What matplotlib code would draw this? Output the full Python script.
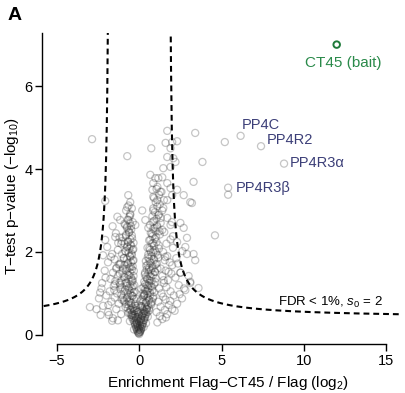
import numpy as np
import matplotlib
matplotlib.use("Agg")
import matplotlib.pyplot as plt

plt.rcParams['font.family'] = ['Liberation Sans', 'DejaVu Sans']
plt.rcParams['mathtext.fontset'] = 'custom'
plt.rcParams['mathtext.rm'] = 'Liberation Sans'
plt.rcParams['mathtext.it'] = 'Liberation Sans:italic'

# ---------------- data ----------------
# apex of the V (very dense)
apex_x = [0.0, -0.04, 0.04, -0.09, 0.07, -0.02, -0.14, 0.11, -0.07, 0.02,
          -0.19, 0.16, -0.11, 0.06, -0.24, 0.21, -0.16, 0.13, -0.03, -0.29,
          0.26, -0.21, 0.09, -0.34, 0.31, -0.12, 0.19, -0.39, 0.36, -0.27,
          0.24, -0.44, 0.4, -0.08, -0.33, 0.29, -0.5, 0.45, -0.18, 0.14]
apex_y = [0.02, 0.05, 0.07, 0.08, 0.11, 0.12, 0.13, 0.14, 0.17, 0.18,
          0.19, 0.21, 0.23, 0.25, 0.26, 0.27, 0.29, 0.31, 0.33, 0.34,
          0.35, 0.37, 0.38, 0.4, 0.41, 0.43, 0.45, 0.46, 0.47, 0.49,
          0.51, 0.52, 0.54, 0.55, 0.57, 0.58, 0.61, 0.63, 0.65, 0.67]

# dense core near the origin
core_x = [-0.05, 0.03, -0.12, 0.08, -0.02, -0.18, 0.12, -0.08, 0.05, -0.25,
          0.18, -0.3, 0.22, -0.15, 0.0, -0.38, 0.3, -0.1, 0.1, -0.45,
          0.35, -0.22, 0.15, -0.5, 0.42, -0.35, 0.28, -0.6, 0.5, -0.05,
          -0.28, 0.2, -0.55, 0.45, -0.7, 0.6, -0.4, 0.35, -0.15, 0.08,
          -0.65, 0.55, -0.8, 0.7, -0.48, 0.4, -0.2, 0.25, -0.9, 0.78,
          -0.58, 0.62, -0.32, 0.15, -0.75, 0.5, -1.0, 0.85, -0.42, 0.3]
core_y = [0.04, 0.06, 0.1, 0.1, 0.14, 0.16, 0.16, 0.2, 0.22, 0.24,
          0.24, 0.3, 0.3, 0.3, 0.32, 0.36, 0.36, 0.38, 0.4, 0.42,
          0.42, 0.44, 0.46, 0.48, 0.5, 0.5, 0.52, 0.54, 0.55, 0.5,
          0.58, 0.6, 0.6, 0.62, 0.64, 0.64, 0.66, 0.68, 0.6, 0.7,
          0.72, 0.72, 0.74, 0.76, 0.76, 0.78, 0.7, 0.8, 0.8, 0.8,
          0.82, 0.84, 0.86, 0.86, 0.88, 0.9, 0.9, 0.92, 0.94, 0.96]

# extra dense points, lower part of the V
dense_lo_x = [-0.32, 0.27, -0.12, 0.41, -0.57, 0.09, -0.21, 0.52, -0.44, 0.18,
              -0.68, 0.33, -0.03, 0.61, -0.36, 0.46, -0.83, 0.14, -0.49, 0.72,
              -0.26, 0.39, -0.62, 0.06, -0.94, 0.58, -0.17, 0.83, -0.73, 0.24,
              -0.41, 0.67, -1.08, 0.31, -0.55, 0.91, -0.29, 0.48, -0.86, 0.12,
              -0.66, 0.77, -0.38, 0.55, -1.15, 0.36, -0.78, 0.98, -0.47, 0.64]
dense_lo_y = [0.13, 0.19, 0.26, 0.28, 0.33, 0.35, 0.41, 0.44, 0.47, 0.49,
              0.53, 0.56, 0.57, 0.59, 0.63, 0.66, 0.67, 0.69, 0.71, 0.73,
              0.75, 0.77, 0.79, 0.81, 0.83, 0.85, 0.87, 0.88, 0.91, 0.92,
              0.94, 0.96, 0.97, 0.99, 1.01, 1.03, 1.04, 1.06, 1.09, 1.11,
              1.13, 1.16, 1.17, 1.19, 1.21, 1.23, 1.26, 1.27, 1.29, 1.31]

# extra dense points, middle part of the V
dense_mid_x = [-0.42, 0.47, -0.88, 0.73, -0.61, 0.34, -1.02, 0.96, -0.33, 0.58,
               -0.77, 0.81, -0.52, 0.42, -1.18, 1.07, -0.68, 0.63, -0.39, 0.88,
               -0.93, 0.52, -0.58, 1.12, -0.47, 0.71, -0.83, 0.95, -0.36, 0.61,
               -0.72, 1.18, -0.53, 0.84, -1.06, 0.67, -0.44, 1.02, -0.81, 0.77,
               -0.63, 1.23, -0.49, 0.92, -0.74, 1.08, -0.57, 0.83, -0.66, 1.31]
dense_mid_y = [1.33, 1.36, 1.39, 1.41, 1.44, 1.46, 1.49, 1.52, 1.54, 1.57,
               1.59, 1.61, 1.64, 1.67, 1.69, 1.72, 1.74, 1.77, 1.79, 1.83,
               1.85, 1.87, 1.9, 1.93, 1.96, 1.99, 2.01, 2.04, 2.07, 2.09,
               2.13, 2.16, 2.18, 2.21, 2.26, 2.29, 2.33, 2.36, 2.39, 2.44,
               2.47, 2.5, 2.54, 2.57, 2.61, 2.64, 2.69, 2.73, 2.77, 2.82]

# left arm of the V
left_x = [-0.5, -0.7, -0.35, -0.9, -0.6, -0.45, -1.05, -0.75, -0.3, -0.55,
          -0.85, -0.4, -1.1, -0.65, -0.5, -0.95, -0.35, -0.7, -1.2, -0.55,
          -0.8, -0.45, -1.0, -0.6, -0.4, -0.9, -0.7, -1.15, -0.5, -0.35,
          -0.75, -0.95, -0.55, -0.45, -1.05, -0.65, -0.85, -0.4, -0.6, -0.75,
          -0.5, -0.9, -0.35, -0.7, -0.55, -1.0, -0.45, -0.8, -0.6, -0.65,
          -0.75, -0.5, -0.9, -0.4, -0.7, -0.6, -0.55, -0.8, -0.45, -0.65]
left_y = [0.95, 1.0, 1.02, 1.05, 1.08, 1.12, 1.15, 1.18, 1.2, 1.22,
          1.25, 1.3, 1.3, 1.34, 1.38, 1.4, 1.42, 1.45, 1.48, 1.5,
          1.55, 1.58, 1.6, 1.62, 1.65, 1.68, 1.7, 1.72, 1.75, 1.8,
          1.82, 1.85, 1.88, 1.92, 1.95, 1.98, 2.02, 2.05, 2.08, 2.12,
          2.15, 2.2, 2.22, 2.25, 2.3, 2.35, 2.4, 2.42, 2.48, 2.52,
          2.58, 2.62, 2.68, 2.72, 2.78, 2.85, 2.92, 3.0, 3.05, 3.12]

# right arm of the V
right_x = [0.3, 0.5, 0.2, 0.65, 0.4, 0.8, 0.35, 0.55, 0.25, 0.7,
           0.45, 0.9, 0.6, 0.3, 0.75, 0.5, 1.0, 0.4, 0.65, 0.85,
           0.55, 0.35, 0.95, 0.7, 0.45, 1.1, 0.6, 0.8, 0.5, 1.0,
           0.7, 0.4, 0.9, 0.6, 1.15, 0.75, 0.55, 1.0, 0.85, 0.65,
           1.2, 0.5, 0.9, 0.75, 1.05, 0.6, 0.95, 0.8, 1.25, 0.7,
           1.0, 0.85, 1.1, 0.65, 1.3, 0.9, 1.05, 0.8, 1.2, 0.95,
           1.4, 0.85, 1.1, 1.25, 1.0, 1.5, 0.9, 1.2, 1.35, 1.05]
right_y = [0.95, 0.98, 1.0, 1.02, 1.05, 1.08, 1.1, 1.12, 1.15, 1.18,
           1.2, 1.22, 1.25, 1.28, 1.3, 1.34, 1.36, 1.4, 1.42, 1.45,
           1.48, 1.5, 1.52, 1.55, 1.58, 1.6, 1.62, 1.65, 1.68, 1.7,
           1.74, 1.78, 1.8, 1.84, 1.86, 1.9, 1.94, 1.98, 2.0, 2.05,
           2.08, 2.1, 2.15, 2.2, 2.24, 2.28, 2.32, 2.38, 2.42, 2.46,
           2.5, 2.56, 2.6, 2.65, 2.7, 2.75, 2.8, 2.86, 2.9, 2.96,
           3.0, 3.05, 3.1, 3.15, 3.2, 3.25, 3.3, 3.38, 3.45, 3.52]

# lighter halo around the V
halo_x = [-1.3, -1.6, -1.1, -1.9, -1.4, -2.2, -1.25, -1.7, -1.05, -1.5,
          -2.0, -1.35, -1.8, -1.15, -2.3, -1.55, -1.2, -1.45, -1.75, -1.3,
          -1.6, -2.1, -1.4, -1.25, -1.9, -1.5, -1.65, -1.3, -1.1, -1.2,
          1.1, 1.4, 1.25, 1.7, 1.05, 1.55, 2.0, 1.3, 1.8, 2.3,
          1.15, 1.6, 2.6, 1.45, 2.1, 1.35, 1.9, 2.8, 1.2, 1.65,
          2.4, 1.5, 3.1, 1.75, 2.2, 1.4, 1.95, 2.5, 1.6, 1.3,
          2.0, 1.85, 1.55, 2.25, 1.7, 3.3, 1.45, 2.05, 1.65, 1.9]
halo_y = [0.35, 0.4, 0.5, 0.55, 0.62, 0.7, 0.75, 0.8, 0.85, 0.9,
          0.95, 1.0, 1.05, 1.1, 1.12, 1.18, 1.25, 1.3, 1.35, 1.42,
          1.5, 1.55, 1.6, 1.7, 1.75, 1.82, 1.95, 2.05, 2.2, 2.35,
          0.3, 0.38, 0.45, 0.5, 0.55, 0.6, 0.62, 0.68, 0.72, 0.75,
          0.8, 0.85, 0.88, 0.92, 0.95, 1.0, 1.05, 1.08, 1.12, 1.15,
          1.2, 1.25, 1.28, 1.32, 1.38, 1.42, 1.48, 1.5, 1.55, 1.6,
          1.68, 1.75, 1.8, 1.85, 1.9, 1.95, 2.0, 2.1, 2.2, 2.3]

# outer halo
halo2_x = [-1.85, 1.62, -2.45, 2.15, -1.52, 1.88, -2.05, 2.45, -1.38, 2.72,
           -1.72, 1.48, -2.6, 3.0, -1.95, 1.78, -1.42, 2.35, -2.2, 1.58,
           -1.62, 2.62, -1.33, 2.05, -1.88, 1.52, -2.38, 2.9, -1.48, 1.98]
halo2_y = [0.48, 0.42, 0.88, 0.58, 1.08, 0.82, 1.38, 0.98, 1.62, 1.12,
           1.88, 1.32, 0.62, 1.42, 2.12, 1.52, 2.45, 1.72, 1.92, 1.88,
           2.62, 2.02, 2.85, 2.38, 0.72, 2.48, 1.02, 1.95, 1.22, 2.72]

# sparser upper part and outliers
upper_x = [1.7, 1.6, 2.0, 2.3, 1.9, 1.7, 2.07, 2.2, 1.46, 1.9,
           0.67, 0.98, 1.16, 1.4, 0.85, 1.1, 0.8, 1.28, 1.7, 1.9,
           2.3, 2.0, 0.85, 1.1, 1.7, 2.7, 3.3, 3.1, -0.67, -2.07,
           -0.55, -0.73, -0.55, -1.16, -0.85, -0.24, 0.18, 0.37, 0.55, 0.85,
           1.16, 1.46, 1.7, 1.9, 1.4, 2.5, 2.7, 3.2, 3.4, 2.9,
           2.3, -2.07, -1.46, -1.28, -0.67, -2.87, -0.73, 0.73, 3.4, 5.2,
           3.84, 4.6, 2.8, 2.5, 3.1, 3.6, -3.0, -2.35, -1.65, -2.26]
upper_y = [4.92, 4.63, 4.65, 4.67, 4.5, 4.29, 4.26, 4.17, 4.02, 4.05,
           3.86, 3.78, 3.78, 3.8, 3.66, 3.57, 3.5, 3.45, 3.66, 3.54,
           3.5, 3.37, 3.33, 3.25, 3.25, 3.37, 3.69, 3.2, 3.37, 3.23,
           3.2, 3.08, 2.89, 2.77, 2.65, 2.65, 3.0, 2.77, 2.58, 3.0,
           2.89, 3.06, 2.82, 2.65, 2.53, 2.7, 2.58, 3.18, 1.8, 2.34,
           2.24, 2.29, 2.36, 2.22, 2.24, 4.72, 4.31, 4.5, 4.87, 4.65,
           4.17, 2.4, 2.12, 1.5, 1.25, 1.13, 0.67, 0.48, 0.34, 1.25]

# PP4 complex members (labelled hits)
hit_x = [6.16, 7.4, 8.8, 5.4, 5.4]
hit_y = [4.8, 4.55, 4.13, 3.55, 3.38]
hit_labels = ["PP4C", "PP4R2", "PP4R3\u03b1", "PP4R3\u03b2"]
label_x = [6.2, 7.75, 9.15, 5.85]
label_y = [5.05, 4.7, 4.14, 3.54]

bait_x = [12.0]
bait_y = [7.0]

# FDR threshold curve parameters (y = b + a / (|x| - x0)^p)
fdr_a, fdr_b, fdr_x0, fdr_p = 1.0, 0.4, 1.8, 0.88

# ---------------- figure ----------------
fig = plt.figure(figsize=(4.06, 3.93), dpi=100)
ax = fig.add_axes([42.2 / 406, (393 - 344) / 393, (402.5 - 42.2) / 406, (344 - 33) / 393])
ax.set_xlim(-5.9, 16.0)
ax.set_ylim(-0.22, 7.28)

bg_x = (apex_x + core_x + dense_lo_x + dense_mid_x + left_x + right_x + halo_x
        + halo2_x + upper_x + hit_x)
bg_y = (apex_y + core_y + dense_lo_y + dense_mid_y + left_y + right_y + halo_y
        + halo2_y + upper_y + hit_y)
ax.scatter(bg_x, bg_y, s=26, facecolors='none', edgecolors='#2a2a2a',
           linewidths=0.9, alpha=0.27, zorder=2)

ax.scatter(bait_x, bait_y, s=22, facecolors='none', edgecolors='#1f7a3a',
           linewidths=1.4, zorder=3)
ax.text(12.4, 6.55, "CT45 (bait)", color='#2a8a4a', fontsize=11,
        ha='center', va='center')

for t, lx, ly in zip(hit_labels, label_x, label_y):
    ax.text(lx, ly, t, color='#3c3f78', fontsize=10.5, ha='left', va='center')

# threshold curves
xr = np.linspace(fdr_x0 + 0.105, 16.0, 600)
yr = fdr_b + fdr_a / (xr - fdr_x0) ** fdr_p
ls = (0, (2.8, 1.9))
ax.plot(xr, yr, color='black', lw=1.5, ls=ls, zorder=1)
xl = np.linspace(-(fdr_x0 + 0.11), -5.9, 600)
yl = fdr_b + fdr_a / (-xl - fdr_x0) ** fdr_p
ax.plot(xl, yl, color='black', lw=1.5, ls=ls, zorder=1)

ax.text(8.45, 0.78, "FDR < 1%, $s_0$ = 2", fontsize=9.5, ha='left', va='center')

# axes styling
for s in ['top', 'right']:
    ax.spines[s].set_visible(False)
ax.spines['left'].set_bounds(0, 7.28)
ax.spines['bottom'].set_bounds(-5, 15)
ax.spines['left'].set_linewidth(1.0)
ax.spines['bottom'].set_linewidth(1.0)
ax.set_xticks([-5, 0, 5, 10, 15])
ax.set_yticks([0, 2, 4, 6])
ax.tick_params(length=5, width=1.0, labelsize=10.5, pad=2)

ax.set_xlabel("Enrichment Flag\u2212CT45 / Flag (log$_2$)", fontsize=11)
ax.xaxis.set_label_coords(0.516, -0.125)
ax.xaxis.label.set_va('center')
ax.set_ylabel("T\u2212test p\u2212value (\u2212log$_{10}$)", fontsize=11)
ax.yaxis.set_label_coords(-0.084, 0.475)
ax.yaxis.label.set_va('center')

fig.text(8 / 406, 1 - 15 / 393, "A", fontsize=14, fontweight='bold',
         ha='left', va='center')

fig.savefig("out.png", dpi=100)
